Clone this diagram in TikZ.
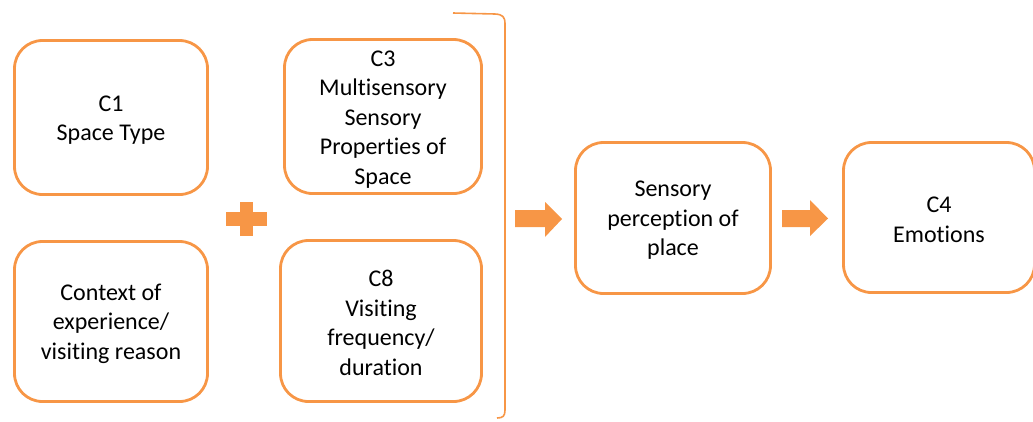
\documentclass[tikz,border=0pt]{standalone}
\usepackage{fontspec}
\setmainfont{Carlito}[Ligatures=CommonOff]
\definecolor{accent}{HTML}{F79646}
\begin{document}
\begin{tikzpicture}[x=1pt,y=-1pt,
  box/.style={draw=accent, line width=2.8pt, rounded corners=28pt,
    inner sep=0pt},
  txt/.style={align=center, inner sep=0pt, text=black,
    font=\fontsize{24}{29.5}\selectfont},
  blockarrow/.style={fill=accent, draw=none},
  bracket/.style={draw=accent, line width=1.6pt},
]
\useasboundingbox (0,0) rectangle (1033,421);

% input factors
\node[box, minimum width=193pt, minimum height=154pt] (c1) at (111,117.5) {};
\node[box, minimum width=197pt, minimum height=154pt] (c3) at (383,116.5) {};
\node[box, minimum width=193pt, minimum height=160pt] (ctx) at (111,321.5) {};
\node[box, minimum width=201pt, minimum height=161pt] (c8) at (381,321) {};

% outcome chain
\node[box, minimum width=195pt, minimum height=151pt] (perc) at (673,218) {};
\node[box, minimum width=191pt, minimum height=150pt] (c4) at (939,217.5) {};

% box texts, set a little below the geometric centre
\node[txt] (c1t) at ([yshift=-2.5pt]c1.center) {C1\\Space Type};
\node[txt] (c3t) at ([yshift=-3pt]c3.center) {C3\\Multisensory\\Sensory\\Properties of\\Space};
\node[txt] (ctxt) at ([yshift=-2pt]ctx.center) {Context of\\experience/\\visiting reason};
\node[txt] (c8t) at ([yshift=-2pt]c8.center) {C8\\Visiting\\frequency/\\duration};
\node[txt] (perct) at ([yshift=-2.5pt]perc.center) {Sensory\\perception of\\place};
\node[txt] (c4t) at ([yshift=-2.5pt]c4.center) {C4\\Emotions};

% plus sign between the two columns
\fill[accent] (226,212) rectangle (267,226);
\fill[accent] (240,202) rectangle (253,236);

% closing bracket grouping the inputs
\draw[bracket] (453,13) -- (495,14) .. controls (503,14.5) and (505,17) .. (505,24)
  -- (505,410) .. controls (505,416) and (503,418) .. (497,418);

% block arrows
\path[blockarrow] (515,210) -- (545,210) -- (545,202) -- (562,219) -- (545,237)
  -- (545,227) -- (515,227) -- cycle;
\path[blockarrow] (782,210) -- (810,210) -- (810,200) -- (828,218.5) -- (810,236)
  -- (810,227) -- (782,227) -- cycle;
\end{tikzpicture}
\end{document}
